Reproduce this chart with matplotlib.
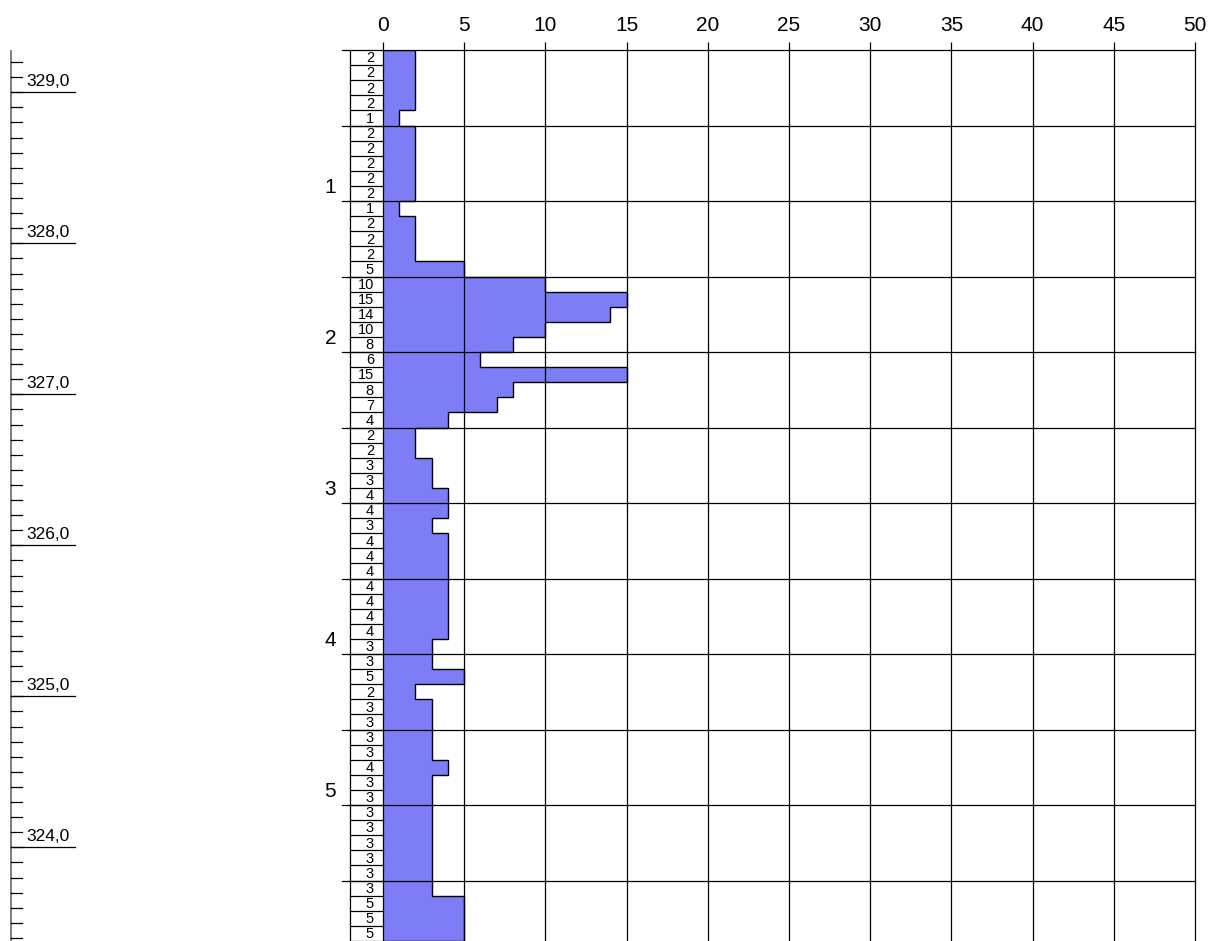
import numpy as np
import matplotlib.pyplot as plt

plt.rcParams['font.family'] = ['Liberation Sans', 'DejaVu Sans']

# blow counts per 10 cm, from the top down
blows = [2, 2, 2, 2, 1,
         2, 2, 2, 2, 2,
         1, 2, 2, 2, 5,
         10, 15, 14, 10, 8,
         6, 15, 8, 7, 4,
         2, 2, 3, 3, 4,
         4, 3, 4, 4, 4,
         4, 4, 4, 4, 3,
         3, 5, 2, 3, 3,
         3, 3, 4, 3, 3,
         3, 3, 3, 3, 3,
         3, 5, 5, 5]
step = 0.1
ground_level = 329.28
depth_labels = [1, 2, 3, 4, 5]
elevation_labels = [329, 328, 327, 326, 325, 324]
x_ticks = list(range(0, 51, 5))

edges = np.arange(len(blows) + 1) * step
max_depth = edges[-1]

W, H = 1217, 941
fig = plt.figure(figsize=(W / 100, H / 100), dpi=100)

# main log axes: x = blows, y = depth
x0, x1, ytop = 383, 1195, 50
ax = fig.add_axes([x0 / W, 0, (x1 - x0) / W, (H - ytop) / H])
ax.set_xlim(0, 50)
ax.set_ylim(max_depth, 0)
for s in ax.spines.values():
    s.set_visible(False)
ax.xaxis.tick_top()
ax.set_xticks(x_ticks)
ax.tick_params(axis='x', length=6, width=0.9, pad=5, labelsize=15)
ax.set_yticks([])

px = 50 / (x1 - x0)          # data units per pixel along x
left_grid = -(x0 - 342) * px
col_left = -(x0 - 350) * px

ax.stairs(blows, edges, orientation='horizontal', baseline=0, fill=True,
          facecolor='#7d7df6', edgecolor='black', linewidth=1.0, zorder=2)

lc = dict(color='black', linewidth=0.9, zorder=3, clip_on=False)
for x in x_ticks:
    ax.plot([x, x], [0, max_depth], **lc)
for d in np.arange(0, max_depth, 0.5):
    ax.plot([left_grid, 50], [d, d], **lc)

# blow count column
ax.plot([col_left, col_left], [0, max_depth], **lc)
for i, b in enumerate(blows):
    ax.plot([col_left, 0], [edges[i + 1]] * 2, **lc)
    ax.text(-9 * px, edges[i] + step / 2 + 0.005, str(b), ha='right', va='center',
            fontsize=10.5, clip_on=False)

for d in depth_labels:
    ax.text(-47 * px, d - 0.025, str(d), ha='right', va='bottom', fontsize=15)

# elevation scale
ax2 = fig.add_axes([0, 0, x0 / W, (H - ytop) / H])
ax2.set_xlim(0, x0)
ax2.set_ylim(ground_level - max_depth, ground_level)
ax2.axis('off')
ax2.plot([11, 11], [ground_level - max_depth, ground_level], color='#666666',
         linewidth=1.2)
for e in np.arange(np.ceil((ground_level - max_depth) * 10), np.floor(ground_level * 10) + 1):
    ax2.plot([11, 22], [e / 10, e / 10], color='black', linewidth=0.9)
for e in elevation_labels:
    ax2.plot([11, 75], [e, e], color='black', linewidth=0.9)
    ax2.text(26, e + 0.02, f'{e},0', ha='left', va='bottom', fontsize=12.5)

fig.savefig('out.png', dpi=100)
